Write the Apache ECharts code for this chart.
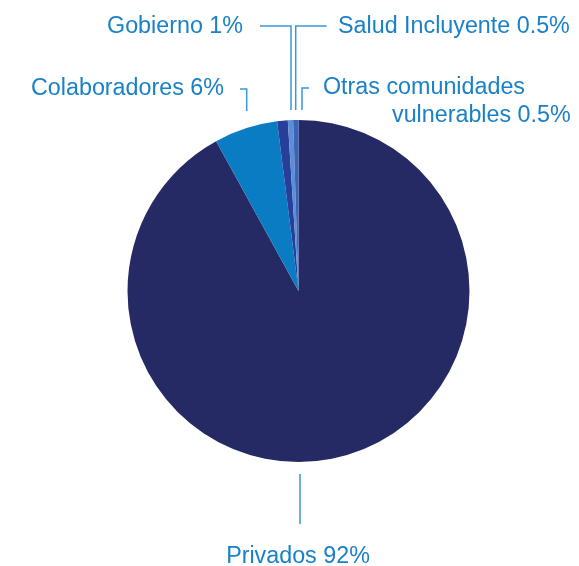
<!DOCTYPE html>
<html>
<head>
<meta charset="utf-8">
<script src="https://cdn.jsdelivr.net/npm/echarts@6/dist/echarts.min.js"></script>
<style>
  html, body { margin: 0; padding: 0; background: #fff; }
  #chart { width: 579px; height: 566px; }
</style>
</head>
<body>
<div id="chart"></div>
<script>
const names = ['Privados', 'Colaboradores', 'Gobierno', 'Salud Incluyente', 'Otras comunidades vulnerables'];
const shares = [92, 6, 1, 0.5, 0.5];
const sliceColors = ['#252a64', '#0a7cc4', '#283f9a', '#5b8ed6', '#3d63b8'];

const textColor = '#1a80c8';
const lineColor = '#3a96d8';

// where each label and its leader line sit
const labelSpots = [
    { x: 298, y: 557, align: 'center', line: [[300, 474], [300, 500], [300, 524]] },
    { x: 224, y: 89, align: 'right', line: [[246.7, 111], [246.7, 89], [240, 89]] },
    { x: 243, y: 27, align: 'right', line: [[291, 110], [291, 26], [260, 26]] },
    { x: 338, y: 27, align: 'left', line: [[295.7, 110], [295.7, 26], [326.7, 26]] },
    { x: 323, y: 74, align: 'left', line: [[302, 110], [302, 88], [309, 88]] }
];

const chart = echarts.init(document.getElementById('chart'));

const option = {
    animation: false,
    series: [
        {
            type: 'pie',
            center: [298.5, 291],
            radius: 171,
            startAngle: 90,
            clockwise: true,
            data: names.map((n, i) => ({
                name: n,
                value: shares[i],
                itemStyle: { color: sliceColors[i] }
            })),
            label: {
                show: true,
                position: 'outside',
                overflow: 'none',
                color: textColor,
                fontFamily: 'Liberation Sans',
                fontSize: 23.3,
                formatter: (p) => {
                    if (p.dataIndex === 4) {
                        return '{a|Otras comunidades}\n{b|vulnerables ' + p.value + '%}';
                    }
                    return p.name + ' ' + p.value + '%';
                },
                rich: {
                    a: { color: textColor, fontFamily: 'Liberation Sans', fontSize: 23.3, lineHeight: 28 },
                    b: { color: textColor, fontFamily: 'Liberation Sans', fontSize: 23.3, lineHeight: 28, padding: [0, 0, 0, 69] }
                }
            },
            labelLine: {
                show: true,
                lineStyle: { color: lineColor, width: 1.5 }
            },
            labelLayout: (params) => {
                const s = labelSpots[params.dataIndex];
                return {
                    x: s.x,
                    y: s.y,
                    width: 400,
                    align: s.align,
                    verticalAlign: params.dataIndex === 4 ? 'top' : 'middle',
                    labelLinePoints: s.line
                };
            },
            emphasis: { disabled: true }
        }
    ]
};

chart.setOption(option);
</script>
</body>
</html>
